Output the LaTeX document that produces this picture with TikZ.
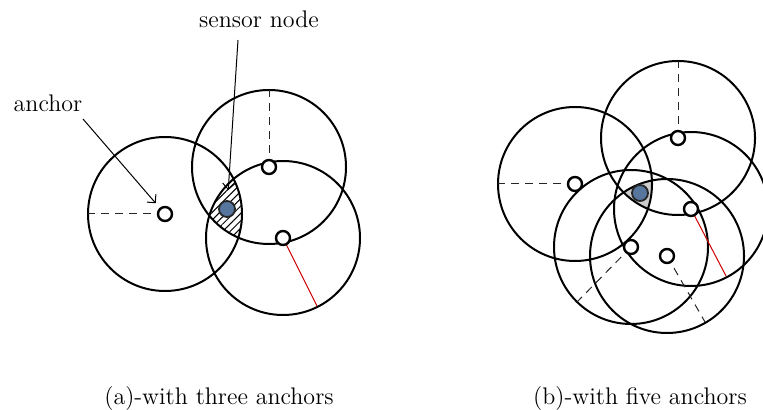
\documentclass[tikz,border=0pt]{standalone}
\usetikzlibrary{patterns,patterns.meta,arrows.meta}
\definecolor{sensorblue}{RGB}{86,118,158}
\begin{document}
\begin{tikzpicture}[x=0.5pt,y=-0.5pt,
  rangecirc/.style={draw=black, line width=1pt},
  anchorpt/.style={circle, draw=black, fill=white, line width=1.2pt, inner sep=0pt, minimum size=7pt},
  sensorpt/.style={circle, draw=black!85, fill=sensorblue, line width=0.9pt, inner sep=0pt, minimum size=8pt},
  rline/.style={draw=black!85, line width=0.5pt, dash pattern=on 4pt off 3pt},
  redline/.style={draw=red!80!black, line width=0.5pt},
  lbl/.style={font=\large, inner sep=0pt, anchor=base},
  pointer/.style={draw=black, line width=0.5pt, -{Straight Barb[length=3pt,width=6pt]}}
]
\useasboundingbox (0,0) rectangle (763,410);
\def\R{38.5pt}
% ---------------- panel (a) ----------------
\coordinate (a1) at (165,214);
\coordinate (a2) at (269,167);
\coordinate (a3) at (283,238);
\coordinate (s1) at (227,209);
\coordinate (a1e) at (88,214);
\coordinate (a2e) at (269,90);
\coordinate (a3e) at (317,306);
\begin{scope}
  \clip (a1) circle[radius=\R];
  \clip (a2) circle[radius=\R];
  \fill[pattern={Lines[angle=45,distance=2.6pt,line width=0.5pt]}] (a3) circle[radius=\R];
\end{scope}
\draw[rangecirc] (a1) circle[radius=\R];
\draw[rangecirc] (a2) circle[radius=\R];
\draw[rangecirc] (a3) circle[radius=\R];
\draw[rline] (a1) -- (a1e);
\draw[rline] (a2) -- (a2e);
\draw[redline] (a3) -- (a3e);
\node[anchorpt] (na1) at (a1) {};
\node[anchorpt] (na2) at (a2) {};
\node[anchorpt] (na3) at (a3) {};
\node[sensorpt] (ns1) at (s1) {};
\node[lbl] (anchorlbl) at (48,112) {anchor};
\node[lbl] (sensorlbl) at (259,28) {sensor node};
\coordinate (anchortail) at (83,119);
\coordinate (sensortail) at (238,40);
\draw[pointer, shorten >=3pt] (anchortail) -- (na1);
\draw[pointer, shorten >=5pt] (sensortail) -- (ns1);
\node[lbl] (capa) at (219,404) {(a)-with three anchors};
% ---------------- panel (b) ----------------
\coordinate (b1) at (575,184);
\coordinate (b2) at (678,138);
\coordinate (b3) at (691,209);
\coordinate (b4) at (631,247);
\coordinate (b5) at (667,256);
\coordinate (s2) at (640,193);
\coordinate (b1e) at (498,184);
\coordinate (b2e) at (678,61);
\coordinate (b3e) at (726,276);
\coordinate (b4e) at (577,302);
\coordinate (b5e) at (705,322);
\begin{scope}
  \clip (b1) circle[radius=\R];
  \clip (b2) circle[radius=\R];
  \clip (b3) circle[radius=\R];
  \clip (b4) circle[radius=\R];
  \fill[black!20] (b5) circle[radius=\R];
\end{scope}
\foreach \c in {b1,b2,b3,b4,b5}{\draw[rangecirc] (\c) circle[radius=\R];}
\draw[rline] (b1) -- (b1e);
\draw[rline] (b2) -- (b2e);
\draw[redline] (b3) -- (b3e);
\draw[rline] (b4) -- (b4e);
\draw[rline] (b5) -- (b5e);
\node[anchorpt] (nb1) at (b1) {};
\node[anchorpt] (nb2) at (b2) {};
\node[anchorpt] (nb3) at (b3) {};
\node[anchorpt] (nb4) at (b4) {};
\node[anchorpt] (nb5) at (b5) {};
\node[sensorpt] (ns2) at (s2) {};
\node[lbl] (capb) at (640,404) {(b)-with five anchors};
\end{tikzpicture}
\end{document}
